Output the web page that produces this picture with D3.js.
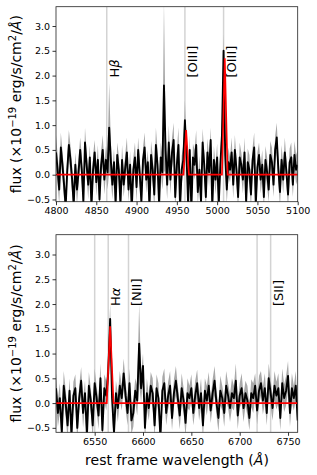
<!DOCTYPE html>
<html>
<head>
<meta charset="utf-8">
<script src="https://cdn.jsdelivr.net/npm/d3@7"></script>
<style>
  body { margin: 0; background: #fff; }
  svg { font-family: "DejaVu Sans", sans-serif; }
</style>
</head>
<body>
<div id="chart"></div>
<script>
// ---- data ----
// top panel: 4800-5100 A, sampled every 2 A
var topStart = 4800, topStep = 2
var fluxTop = [
  0.45, 0.1, -0.3, 0.55, 0.2, -0.2, -0.65, 0.1, 0.6, 0.3,
  -0.1, -0.6, 0.2, -0.3, 0.05, 0.5, 0.1, -0.55, 0.65, 0.2,
  -0.2, 0.35, -0.65, 0.1, 0.45, -0.15, 0.3, -0.5, 0.2, 0.5,
  -0.1, 0.3, 0.05, 0.95, 0.3, -0.2, 0.25, -0.6, 0.4, 0.1,
  -0.6, 0.3, -0.2, 0.15, 0.45, -0.3, 0.2, -0.7, 0.1, 0.35,
  -0.25, 0.5, 0.0, -0.55, 0.3, 0.55, -0.1, 0.25, -0.65, 0.4,
  0.1, -0.4, 0.6, 0.2, -0.6, 0.35, 0.05, 1.8, 0.5, -0.2,
  0.65, -0.1, 0.45, 0.7, -0.45, 0.2, 0.6, -0.65, 0.1, 0.3,
  1.1, 0.4, -0.6, 0.5, -0.7, 0.35, 0.2, 0.6, -0.35, 0.1,
  -0.55, 0.65, 0.2, -0.45, 0.45, 0.05, 0.7, -0.65, 0.3, -0.1,
  0.35, -0.6, 0.2, 0.8, 2.5, 0.4, -0.3, 0.25, 0.1, 0.45,
  -0.2, 0.5, 0.1, -0.45, 0.35, 0.2, -0.1, 0.45, -0.55, 0.25,
  0.1, -0.4, 0.3, 0.55, -0.6, 0.15, 0.4, -0.1, 0.2, -0.45,
  0.3, 0.05, -0.3, 0.4, 0.25, -0.2, 0.5, 0.75, 0.1, -0.35,
  0.3, -0.1, 0.45, 0.05, -0.4, 0.25, 0.35, -0.2, 0.4, 0.1,
  0.2
]
var errTop = [
  .35, .3, .3, .3, .28, .3, .25, .3, .3, .28,
  .28, .3, .25, .3, .28, .25, .3, .28, .3, .25,
  .3, .25, .28, .3, .25, .28, .3, .25, .28, .3,
  .3, .28, .35, .9, .4, .3, .28, .3, .25, .28,
  .28, .3, .25, .28, .3, .25, .28, .3, .25, .3,
  .3, .25, .28, .3, .25, .3, .28, .25, .3, .28,
  .28, .3, .35, .3, .28, .3, .35, 1.7, .5, .3,
  .35, .3, .3, .35, .28, .3, .35, .3, .28, .3,
  .4, .3, .28, .3, .25, .28, .3, .3, .25, .28,
  .3, .28, .25, .3, .28, .3, .25, .3, .28, .3,
  .28, .3, .25, .3, .35, .3, .28, .3, .25, .3,
  .28, .3, .25, .28, .3, .25, .28, .3, .25, .28,
  .3, .28, .25, .3, .28, .3, .25, .28, .3, .25,
  .28, .3, .25, .28, .3, .25, .28, .3, .28, .3,
  .3, .28, .3, .25, .3, .28, .3, .25, .28, .3,
  .3
]
var modelTop = [[4800, 0], [4958.3, 0], [4961.5, 0.9], [4965, 0], [5006, 0], [5009.5, 2.35], [5013, 0], [5100, 0]]
var linesTop = [4863, 4960, 5008]
var labelsTop = [{x: 4863, t: "H", g: "β"}, {x: 4960, t: "[OIII]", g: ""}, {x: 5008, t: "[OIII]", g: ""}]
var xTicksTop = [4800, 4850, 4900, 4950, 5000, 5050, 5100]

// bottom panel: 6510-6760 A, sampled every 2 A
var botStart = 6510, botStep = 2
var fluxBot = [
  0.3, -0.2, 0.1, -0.6, 0.35, 0.0, -0.45, 0.25, -0.65, 0.15,
  0.3, -0.5, 0.1, 0.45, -0.2, 0.2, -0.65, 0.35, 0.05, -0.45,
  0.4, 0.1, -0.25, 0.5, -0.55, 0.3, 0.15, 0.6, 1.7, 0.1,
  -0.6, 0.2, -0.1, 0.35, 0.1, 0.6, 0.15, -0.2, 0.4, -0.35,
  -0.2, 0.25, 0.05, 1.2, 0.3, 0.75, -0.5, 0.2, -0.1, 0.35,
  0.2, -0.45, 0.3, 0.1, -0.7, 0.25, 0.4, -0.2, 0.15, 0.35,
  -0.3, 0.2, 0.45, 0.1, -0.25, 0.3, 0.05, -0.4, 0.2, 0.1,
  0.3, -0.2, 0.15, 0.4, -0.1, 0.2, -0.45, 0.25, 0.05, 0.35,
  -0.15, 0.2, 0.45, 0.0, -0.3, 0.25, 0.1, -0.2, 0.35, 0.15,
  -0.1, 0.2, 0.1, 0.45, -0.25, 0.15, 0.3, -0.1, 0.2, 0.05,
  -0.3, 0.2, 0.1, 0.35, -0.15, 0.25, 0.4, 0.05, 0.3, -0.2,
  0.5, 0.2, -0.1, 0.35, 0.15, 0.3, -0.3, 0.4, 0.1, 0.25,
  0.55, -0.2, 0.3, 0.1, 0.35, -0.35
]
var errBot = [
  .3, .28, .3, .25, .3, .28, .3, .25, .3, .28,
  .28, .3, .25, .28, .3, .25, .3, .28, .25, .3,
  .3, .25, .28, .3, .25, .28, .3, .35, .3, .28,
  .3, .25, .28, .3, .25, .3, .28, .25, .3, .28,
  .28, .25, .3, .8, .3, .25, .28, .3, .25, .28,
  .3, .25, .28, .3, .25, .28, .3, .25, .28, .3,
  .25, .28, .3, .25, .28, .3, .25, .28, .3, .25,
  .28, .25, .3, .28, .25, .3, .28, .25, .3, .28,
  .25, .28, .3, .25, .28, .3, .25, .28, .3, .25,
  .28, .3, .25, .35, .28, .25, .3, .28, .25, .3,
  .25, .28, .3, .25, .28, .3, .25, .28, .3, .25,
  .3, .28, .25, .3, .28, .3, .25, .3, .28, .3,
  .3, .28, .3, .25, .3, .28
]
var modelBot = [[6510, 0], [6562.5, 0], [6566, 1.55], [6569.5, 0], [6760, 0]]
var linesBot = [6550, 6564, 6585, 6718, 6732]
var labelsBot = [{x: 6564, t: "H", g: "α"}, {x: 6585, t: "[NII]", g: ""}, {x: 6732, t: "[SII]", g: ""}]
var xTicksBot = [6550, 6600, 6650, 6700, 6750]

var yTicks = [-0.5, 0.0, 0.5, 1.0, 1.5, 2.0, 2.5, 3.0]

// ---- drawing ----
var W = 317, H = 475
var L = 56, R = 297.7
var svg = d3.select("#chart").append("svg").attr("width", W).attr("height", H)

function panel(id, top, bottom, xDom, yDom, start, step, flux, err, model, lines, labels, xTicks) {
  var x = d3.scaleLinear().domain(xDom).range([L, R])
  var y = d3.scaleLinear().domain(yDom).range([bottom, top])
  var pts = flux.map(function(f, i) { return {w: start + i * step, f: f, e: err[i]} })

  svg.append("clipPath").attr("id", id)
    .append("rect").attr("x", L).attr("y", top).attr("width", R - L).attr("height", bottom - top)
  var g = svg.append("g").attr("clip-path", "url(#" + id + ")")

  // emission line markers
  g.selectAll(".vl").data(lines).enter().append("line")
    .attr("x1", function(d) { return x(d) }).attr("x2", function(d) { return x(d) })
    .attr("y1", top).attr("y2", bottom)
    .attr("stroke", "#d3d3d3").attr("stroke-width", 1.5)

  // error band
  var area = d3.area()
    .x(function(d) { return x(d.w) })
    .y0(function(d) { return y(d.f - d.e) })
    .y1(function(d) { return y(d.f + d.e) })
  g.append("path").datum(pts).attr("d", area).attr("fill", "#a8a8a8")

  var line = d3.line().x(function(d) { return x(d.w) }).y(function(d) { return y(d.f) })
  g.append("path").datum(pts).attr("d", line)
    .attr("fill", "none").attr("stroke", "#000").attr("stroke-width", 1.9).attr("stroke-linejoin", "round")

  var mline = d3.line().x(function(d) { return x(d[0]) }).y(function(d) { return y(d[1]) })
  g.append("path").datum(model).attr("d", mline)
    .attr("fill", "none").attr("stroke", "#ff0000").attr("stroke-width", 1.7)

  // line labels
  var lab = svg.selectAll(".lab" + id).data(labels).enter().append("text")
    .attr("transform", function(d) { return "translate(" + (x(d.x) + 12) + "," + (y(2.0) + 2) + ") rotate(-90)" })
    .attr("font-size", 13).attr("fill", "#000")
  lab.append("tspan").text(function(d) { return d.t })
  lab.append("tspan").attr("font-style", "italic").text(function(d) { return d.g })

  // axes
  var xa = svg.append("g").attr("transform", "translate(0," + bottom + ")")
    .call(d3.axisBottom(x).tickValues(xTicks).tickFormat(d3.format("d")).tickSize(3.5).tickSizeOuter(0))
  var ya = svg.append("g").attr("transform", "translate(" + L + ",0)")
    .call(d3.axisLeft(y).tickValues(yTicks).tickFormat(d3.format(".1f")).tickSize(3.5).tickSizeOuter(0))
  ;[xa, ya].forEach(function(a) {
    a.select(".domain").remove()
    a.selectAll("text").attr("font-size", 9.5).attr("font-family", "DejaVu Sans").attr("fill", "#000")
    a.selectAll("line").attr("stroke", "#000").attr("stroke-width", 0.8)
  })
  xa.selectAll("text").attr("y", 6)
  ya.selectAll("text").attr("x", -6)

  svg.append("rect").attr("x", L).attr("y", top).attr("width", R - L).attr("height", bottom - top)
    .attr("fill", "none").attr("stroke", "#222").attr("stroke-width", 0.8)

  // y label
  var yl = svg.append("text")
    .attr("transform", "translate(21," + ((top + bottom) / 2) + ") rotate(-90)")
    .attr("text-anchor", "middle").attr("font-size", 14)
  yl.append("tspan").text("flux (×10")
  yl.append("tspan").attr("font-size", 10).attr("dy", -5.5).text("−19")
  yl.append("tspan").attr("dy", 5.5).text(" erg/s/cm")
  yl.append("tspan").attr("font-size", 10).attr("dy", -5.5).text("2")
  yl.append("tspan").attr("dy", 5.5).text("/")
  yl.append("tspan").attr("font-style", "italic").text("Å")
  yl.append("tspan").text(")")
}

panel("cTop", 6.7, 201.7, [4800, 5100], [-0.545, 3.39], topStart, topStep, fluxTop, errTop, modelTop, linesTop, labelsTop, xTicksTop)
panel("cBot", 234.7, 432.3, [6510, 6760], [-0.59, 3.40], botStart, botStep, fluxBot, errBot, modelBot, linesBot, labelsBot, xTicksBot)

var xl = svg.append("text").attr("x", 177).attr("y", 465).attr("text-anchor", "middle").attr("font-size", 14)
xl.append("tspan").text("rest frame wavelength (")
xl.append("tspan").attr("font-style", "italic").text("Å")
xl.append("tspan").text(")")
</script>
</body>
</html>
